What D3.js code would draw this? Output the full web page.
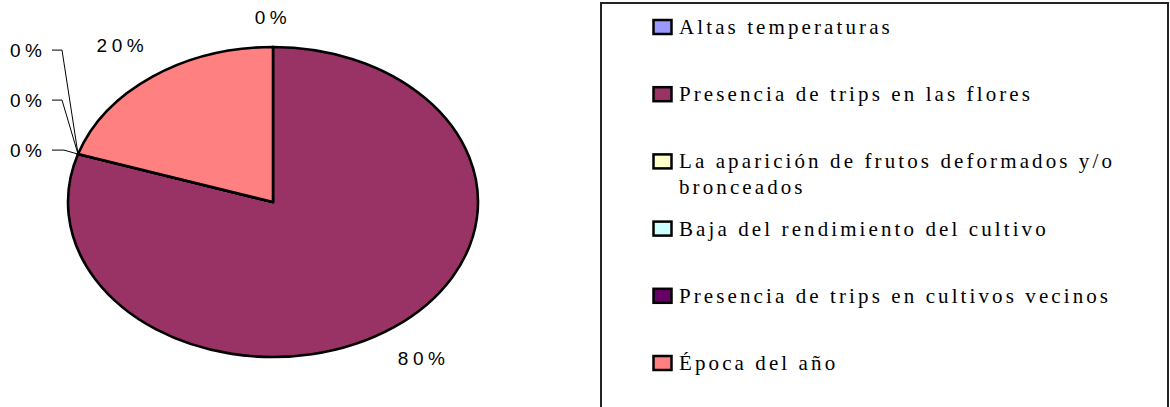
<!DOCTYPE html>
<html>
<head>
<meta charset="utf-8">
<script src="https://cdn.jsdelivr.net/npm/d3@7"></script>
<style>
  body { margin: 0; background: #fff; }
  svg { display: block; }
  .pct { font-family: "Liberation Sans", Arial, sans-serif; font-size: 19px; letter-spacing: 4.5px; fill: #000; }
  .leg { font-family: "Liberation Serif", "Times New Roman", serif; font-size: 21px; letter-spacing: 3.1px; fill: #000; }
</style>
</head>
<body>
<div id="chart"></div>
<script>
'use strict';

// categories, values and colours
var categories = [
    'Altas temperaturas',
    'Presencia de trips en las flores',
    'La aparición de frutos deformados y/o bronceados',
    'Baja del rendimiento del cultivo',
    'Presencia de trips en cultivos vecinos',
    'Época del año'
];
var values = [0, 80, 0, 0, 0, 20];
var colors = ['#9999ff', '#993366', '#ffffcc', '#ccffff', '#660066', '#ff8080'];

var W = 1170, H = 407;
var cx = 273, cy = 202, rx = 205, ry = 155;

var svg = d3.select('#chart')
    .append('svg')
    .attr('width', W)
    .attr('height', H);

var total = d3.sum(values);
var pie = d3.pie().sort(null).value(function (d) { return d; });
var arcs = pie(values);

// unit-radius arcs stretched into an ellipse
var arc = d3.arc().innerRadius(0).outerRadius(1);

var pieG = svg.append('g')
    .attr('transform', 'translate(' + cx + ',' + cy + ') scale(' + rx + ',' + ry + ')');

pieG.selectAll('path')
    .data(arcs)
    .enter()
    .append('path')
    .attr('d', arc)
    .attr('fill', function (d, i) { return colors[i]; })
    .attr('stroke', '#000')
    .attr('stroke-width', 2.6)
    .attr('stroke-linejoin', 'round')
    .attr('vector-effect', 'non-scaling-stroke');

// map an angle on the unit pie to screen coordinates
var toScreen = function (a, k) {
    return [cx + Math.sin(a) * rx * k, cy - Math.cos(a) * ry * k];
};

var fmt = function (v) { return Math.round(v / total * 100) + '%'; };

// labels for non-zero slices, plus the first zero slice sitting at the top
var labelG = svg.append('g');
var stacked = [];
arcs.forEach(function (d, i) {
    if (d.value > 0 || i === 0) {
        var mid = (d.startAngle + d.endAngle) / 2;
        var k = d.value > 0 ? 1.25 : 1.19;
        var p = toScreen(mid, k);
        labelG.append('text')
            .attr('class', 'pct')
            .attr('x', p[0])
            .attr('y', p[1])
            .attr('text-anchor', 'middle')
            .attr('dominant-baseline', 'central')
            .text(fmt(d.value));
    } else {
        stacked.push(d);
    }
});

// zero slices bunched at one point get stacked up on the left with leader lines
var colX = 10, gap = 50;
stacked.forEach(function (d, j) {
    var p = toScreen(d.startAngle, 1);
    var ly = p[1] - 4 - (stacked.length - 1 - j) * gap;
    labelG.append('text')
        .attr('class', 'pct')
        .attr('x', colX)
        .attr('y', ly)
        .attr('dominant-baseline', 'central')
        .text(fmt(d.value));
    labelG.append('path')
        .attr('d', 'M' + (colX + 42) + ',' + ly + 'H' + (colX + 52 + (j === stacked.length - 1 ? 2 : 0)) + 'L' + p[0] + ',' + p[1])
        .attr('fill', 'none')
        .attr('stroke', '#000')
        .attr('stroke-width', 1);
});

// legend
var legX = 601, legY = 3, legW = 567, legH = 440;
var legend = svg.append('g');
legend.append('rect')
    .attr('x', legX)
    .attr('y', legY)
    .attr('width', legW)
    .attr('height', legH)
    .attr('fill', '#fff')
    .attr('stroke', '#222')
    .attr('stroke-width', 2);

var firstY = 27, step = 67.2, maxW = 445;
categories.forEach(function (c, i) {
    var y = firstY + i * step;
    legend.append('rect')
        .attr('x', 653.5)
        .attr('y', y - 7)
        .attr('width', 18)
        .attr('height', 14)
        .attr('fill', colors[i])
        .attr('stroke', '#000')
        .attr('stroke-width', 2.5);

    var t = legend.append('text')
        .attr('class', 'leg')
        .attr('x', 679)
        .attr('y', y + 7);
    // simple word wrap
    var words = c.split(' ');
    var line = [];
    var ts = t.append('tspan').attr('x', 679).attr('dy', 0);
    words.forEach(function (w) {
        line.push(w);
        ts.text(line.join(' '));
        if (ts.node().getComputedTextLength() > maxW && line.length > 1) {
            line.pop();
            ts.text(line.join(' '));
            line = [w];
            ts = t.append('tspan').attr('x', 679).attr('dy', 26).text(w);
        }
    });
});
</script>
</body>
</html>
